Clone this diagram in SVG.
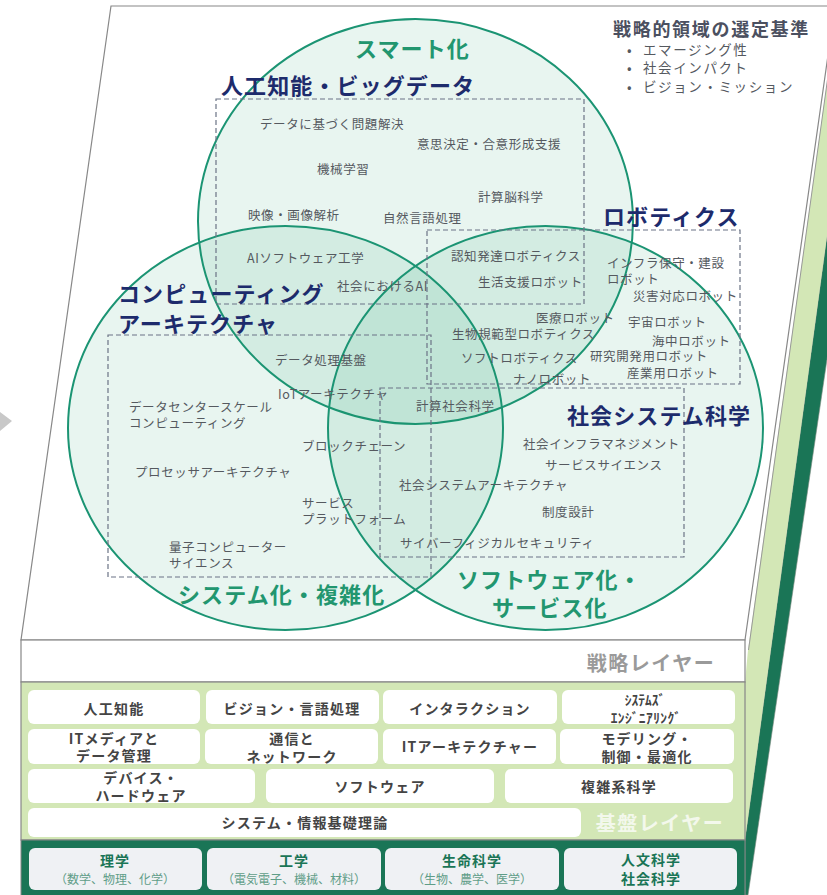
<svg xmlns="http://www.w3.org/2000/svg" width="827" height="895" viewBox="0 0 827 895">
<style>
text{font-family:"Noto Sans CJK JP","Noto Sans",sans-serif;dominant-baseline:central}
.s{font-size:12.5px;fill:#55595f;letter-spacing:0.6px}
.t{font-size:22px;font-weight:700;fill:#1d2b6c;letter-spacing:1.1px}
.g{font-size:22px;font-weight:700;fill:#22966f;letter-spacing:1.1px}
.b{font-size:14px;font-weight:700;fill:#444;text-anchor:middle;letter-spacing:1.2px}
.bt{font-size:14px;font-weight:700;fill:#1a7556;text-anchor:middle;letter-spacing:1px}
.bs{font-size:12px;fill:#5f9d88;text-anchor:middle}
.lg{font-size:13.5px;fill:#55595f;letter-spacing:1.6px}
.ell{fill:#1a9a6e;fill-opacity:0.1;stroke:#1b9473;stroke-width:2}
.dash{fill:none;stroke:#6b7385;stroke-width:1.2;stroke-dasharray:5 3}
.wbox{fill:#fff}
.gbox{fill:#eff1f4}
</style>
<g id="structure">
  <polygon points="0,412 12,421 0,431" fill="#c8c8c8"/>
  <polygon points="745,840 859,0 880,0 748,895 745,895" fill="#1a7556" stroke="#7a8a80" stroke-width="0.6"/>
  <polygon points="748,650 838.5,0 859,0 745,840 745,682" fill="#d3e7b6"/>
  <line x1="748.5" y1="650" x2="838.5" y2="0" stroke="#999" stroke-width="1"/>
  <polygon points="111,6 835,6 745,640 21,640" fill="#fff" stroke="#888" stroke-width="1.2"/>
  <rect x="21" y="640" width="724" height="42" fill="#fff" stroke="#888" stroke-width="1.2"/>
  <rect x="21" y="682" width="724" height="158" fill="#d3e7b6" stroke="#888" stroke-width="1.2"/>
  <rect x="21" y="840" width="724" height="56" fill="#1a7556" stroke="#888" stroke-width="1"/>
  <text x="651" y="662" style="font-size:20px;font-weight:700;fill:#9a9a9a;text-anchor:middle;letter-spacing:1.5px">戦略レイヤー</text>
  <text x="660" y="822" style="font-size:20px;font-weight:700;fill:#f3f8ec;text-anchor:middle;letter-spacing:1.5px">基盤レイヤー</text>
</g>
<g id="venn">
  <ellipse id="smart" class="ell" cx="415.5" cy="221.5" rx="217.5" ry="202.5"/>
  <ellipse id="system" class="ell" cx="285.5" cy="428" rx="217.5" ry="202"/>
  <ellipse id="software" class="ell" cx="545.5" cy="428" rx="217.5" ry="202"/>
  <text class="g" x="355" y="47">スマート化</text>
  <text class="g" x="178" y="593">システム化・複雑化</text>
  <text class="g" x="457" y="578">ソフトウェア化・</text>
  <text class="g" x="492" y="606">サービス化</text>
</g>
<g id="connectors"></g>
<g id="legend">
  <text x="613" y="28" style="font-size:18px;font-weight:700;fill:#4b5060;letter-spacing:1.7px">戦略的領域の選定基準</text>
  <text class="lg" x="627" y="49">•</text><text class="lg" x="643" y="49">エマージング性</text>
  <text class="lg" x="627" y="67">•</text><text class="lg" x="643" y="67">社会インパクト</text>
  <text class="lg" x="627" y="86">•</text><text class="lg" x="643" y="86">ビジョン・ミッション</text>
</g>
<g id="ai-bigdata">
  <rect class="dash" x="216" y="99" width="368" height="205"/>
  <text class="t" x="221" y="84">人工知能・ビッグデータ</text>
  <text class="s" x="260" y="123">データに基づく問題解決</text>
  <text class="s" x="417" y="143">意思決定・合意形成支援</text>
  <text class="s" x="317" y="168">機械学習</text>
  <text class="s" x="478" y="196">計算脳科学</text>
  <text class="s" x="248" y="214">映像・画像解析</text>
  <text class="s" x="383" y="217">自然言語処理</text>
  <text class="s" x="247" y="257">AIソフトウェア工学</text>
  <text class="s" x="337" y="285">社会におけるAI</text>
</g>
<g id="robotics">
  <rect class="dash" x="427" y="230" width="313" height="154"/>
  <text class="t" x="603" y="215">ロボティクス</text>
  <text class="s" x="451" y="255">認知発達ロボティクス</text>
  <text class="s" x="478" y="281">生活支援ロボット</text>
  <text class="s" x="607" y="262">インフラ保守・建設</text>
  <text class="s" x="607" y="278">ロボット</text>
  <text class="s" x="633" y="295">災害対応ロボット</text>
  <text class="s" x="536" y="317">医療ロボット</text>
  <text class="s" x="628" y="321">宇宙ロボット</text>
  <text class="s" x="452" y="333">生物規範型ロボティクス</text>
  <text class="s" x="652" y="340">海中ロボット</text>
  <text class="s" x="461" y="357">ソフトロボティクス</text>
  <text class="s" x="590" y="355">研究開発用ロボット</text>
  <text class="s" x="513" y="378">ナノロボット</text>
  <text class="s" x="627" y="372">産業用ロボット</text>
</g>
<g id="computing">
  <rect class="dash" x="108" y="335" width="323" height="242"/>
  <text class="t" x="118" y="292">コンピューティング</text>
  <text class="t" x="118" y="322">アーキテクチャ</text>
  <text class="s" x="275" y="359">データ処理基盤</text>
  <text class="s" x="278" y="393">IoTアーキテクチャ</text>
  <text class="s" x="129" y="406">データセンタースケール</text>
  <text class="s" x="129" y="422">コンピューティング</text>
  <text class="s" x="302" y="445">ブロックチェーン</text>
  <text class="s" x="135" y="471">プロセッサアーキテクチャ</text>
  <text class="s" x="302" y="502">サービス</text>
  <text class="s" x="302" y="518">プラットフォーム</text>
  <text class="s" x="169" y="546">量子コンピューター</text>
  <text class="s" x="169" y="562">サイエンス</text>
</g>
<g id="social-system">
  <rect class="dash" x="380" y="388" width="304" height="169"/>
  <text class="t" x="567" y="414">社会システム科学</text>
  <text class="s" x="416" y="405">計算社会科学</text>
  <text class="s" x="523" y="443">社会インフラマネジメント</text>
  <text class="s" x="545" y="464">サービスサイエンス</text>
  <text class="s" x="399" y="484">社会システムアーキテクチャ</text>
  <text class="s" x="542" y="511">制度設計</text>
  <text class="s" x="400" y="542">サイバーフィジカルセキュリティ</text>
</g>
<g id="foundation">
  <g id="f-ai"><rect class="wbox" x="28" y="690" width="172" height="34" rx="6"/><text class="b" x="114" y="708">人工知能</text></g>
  <g id="f-vision"><rect class="wbox" x="206" y="690" width="173" height="34" rx="6"/><text class="b" x="292" y="708">ビジョン・言語処理</text></g>
  <g id="f-interaction"><rect class="wbox" x="383" y="690" width="174" height="34" rx="6"/><text class="b" x="470" y="708">インタラクション</text></g>
  <g id="f-syseng"><rect class="wbox" x="562" y="690" width="173" height="34" rx="6"/><text x="645" y="699" style="font-size:13.5px;font-weight:700;fill:#444;text-anchor:middle">ｼｽﾃﾑｽﾞ</text><text x="646" y="717" style="font-size:13.5px;font-weight:700;fill:#444;text-anchor:middle;letter-spacing:0.4px">ｴﾝｼﾞﾆｱﾘﾝｸﾞ</text></g>
  <g id="f-itmedia"><rect class="wbox" x="28" y="729" width="172" height="35" rx="6"/><text class="b" x="114" y="738">ITメディアと</text><text class="b" x="114" y="755">データ管理</text></g>
  <g id="f-network"><rect class="wbox" x="205" y="729" width="173" height="35" rx="6"/><text class="b" x="292" y="738">通信と</text><text class="b" x="292" y="756">ネットワーク</text></g>
  <g id="f-itarch"><rect class="wbox" x="383" y="729" width="173" height="35" rx="6"/><text class="b" x="470" y="746">ITアーキテクチャー</text></g>
  <g id="f-modeling"><rect class="wbox" x="560" y="729" width="174" height="35" rx="6"/><text class="b" x="647" y="738">モデリング・</text><text class="b" x="647" y="756">制御・最適化</text></g>
  <g id="f-device"><rect class="wbox" x="28" y="769" width="227" height="34" rx="6"/><text class="b" x="141" y="777">デバイス・</text><text class="b" x="141" y="795">ハードウェア</text></g>
  <g id="f-software"><rect class="wbox" x="266" y="769" width="228" height="34" rx="6"/><text class="b" x="380" y="786">ソフトウェア</text></g>
  <g id="f-complex"><rect class="wbox" x="505" y="769" width="228" height="34" rx="6"/><text class="b" x="619" y="786">複雑系科学</text></g>
  <g id="f-theory"><rect class="wbox" x="28" y="808" width="553" height="29" rx="6"/><text class="b" x="305" y="822">システム・情報基礎理論</text></g>
</g>
<g id="disciplines">
  <g id="d-science"><rect class="gbox" x="29" y="848" width="173" height="42" rx="6"/><text class="bt" x="115" y="860">理学</text><text class="bs" x="115" y="878">（数学、物理、化学）</text></g>
  <g id="d-eng"><rect class="gbox" x="207" y="848" width="174" height="42" rx="6"/><text class="bt" x="294" y="860">工学</text><text class="bs" x="294" y="878">（電気電子、機械、材料）</text></g>
  <g id="d-life"><rect class="gbox" x="385" y="848" width="174" height="42" rx="6"/><text class="bt" x="472" y="860">生命科学</text><text class="bs" x="472" y="878">（生物、農学、医学）</text></g>
  <g id="d-human"><rect class="gbox" x="564" y="848" width="173" height="42" rx="6"/><text class="bt" x="651" y="859">人文科学</text><text class="bt" x="651" y="878">社会科学</text></g>
</g>
</svg>
